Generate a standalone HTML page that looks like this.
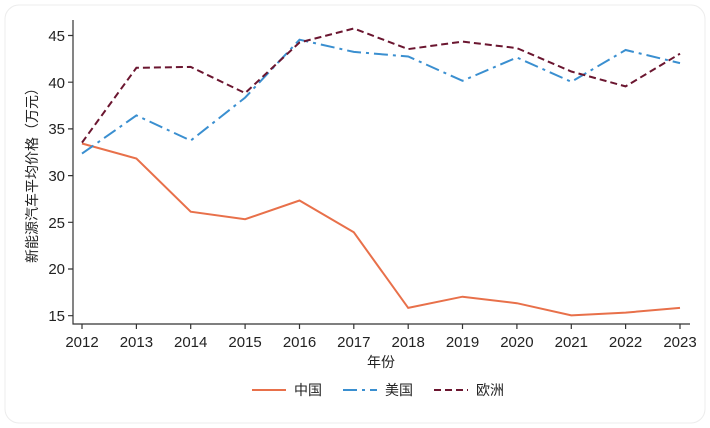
<!DOCTYPE html>
<html><head><meta charset="utf-8"><style>
html,body{margin:0;padding:0;background:#fff;}
svg{display:block;font-family:"Liberation Sans","Noto Sans CJK SC",sans-serif;}
</style></head><body>
<svg width="710" height="428" viewBox="0 0 710 428">
<rect x="5" y="5" width="700" height="418" rx="14" fill="#fff" stroke="#ececec"/>
<g stroke="#333" stroke-width="1.2" fill="none">
<path d="M73 20V324H690"/>
<path d="M68 35.5H73M68 82.2H73M68 128.9H73M68 175.6H73M68 222.3H73M68 269H73M68 315.7H73"/>
<path d="M82 324v5M136.4 324v5M190.7 324v5M245.1 324v5M299.5 324v5M353.8 324v5M408.2 324v5M462.5 324v5M516.9 324v5M571.3 324v5M625.6 324v5M680 324v5"/>
</g>
<g font-size="15" fill="#222" text-anchor="end">
<text x="65" y="41">45</text><text x="65" y="88">40</text><text x="65" y="134">35</text><text x="65" y="181">30</text><text x="65" y="228">25</text><text x="65" y="274">20</text><text x="65" y="321">15</text>
</g>
<g font-size="15" fill="#222" text-anchor="middle">
<text x="82" y="347">2012</text><text x="136.4" y="347">2013</text><text x="190.7" y="347">2014</text><text x="245.1" y="347">2015</text><text x="299.5" y="347">2016</text><text x="353.8" y="347">2017</text><text x="408.2" y="347">2018</text><text x="462.5" y="347">2019</text><text x="516.9" y="347">2020</text><text x="571.3" y="347">2021</text><text x="625.6" y="347">2022</text><text x="680" y="347">2023</text>
<text x="381" y="367" font-size="14">年份</text>
</g>
<text transform="translate(37 172) rotate(-90)" font-size="14" fill="#222" text-anchor="middle">新能源汽车平均价格（万元）</text>
<polyline fill="none" stroke="#e8704a" stroke-width="2" points="82,143.5 136.4,158.5 190.7,211.7 245.1,219.2 299.5,200.5 353.8,232.3 408.2,307.9 462.5,296.7 516.9,303.2 571.3,315.4 625.6,312.6 680,307.9"/>
<polyline fill="none" stroke="#3a8fd0" stroke-width="2" stroke-dasharray="14 5 3 5" points="82,153.6 136.4,115.4 190.7,140.6 245.1,97.6 299.5,39.7 353.8,51.9 408.2,56.5 462.5,80.8 516.9,57.5 571.3,81.8 625.6,50 680,63.1"/>
<polyline fill="none" stroke="#6b1630" stroke-width="2" stroke-dasharray="7 4" points="82,142.6 136.4,67.8 190.7,66.9 245.1,93.1 299.5,42.5 353.8,28.5 408.2,49.1 462.5,41.6 516.9,48.1 571.3,71.5 625.6,86.4 680,53.7"/>
<line x1="252" y1="390" x2="286" y2="390" stroke="#e8704a" stroke-width="2"/>
<line x1="343" y1="390" x2="377" y2="390" stroke="#3a8fd0" stroke-width="2" stroke-dasharray="14 5 3 5"/>
<line x1="434" y1="390" x2="468" y2="390" stroke="#6b1630" stroke-width="2" stroke-dasharray="7 4"/>
<g font-size="14" fill="#222"><text x="294" y="395">中国</text><text x="385" y="395">美国</text><text x="476" y="395">欧洲</text></g>
</svg>
</body></html>
